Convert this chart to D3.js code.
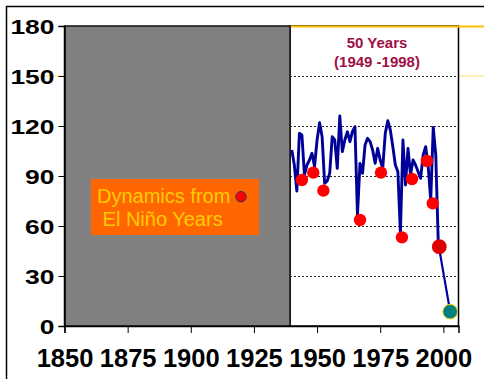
<!DOCTYPE html>
<html>
<head>
<meta charset="utf-8">
<script src="https://cdn.jsdelivr.net/npm/d3@7"></script>
<style>
  html, body { margin: 0; padding: 0; background: #fff; }
  svg { display: block; }
  text { font-family: "Liberation Sans", Arial, sans-serif; }
</style>
</head>
<body>
<svg id="chart" width="484" height="379"></svg>
<script>
// Annual index, 1940-1998
const years = d3.range(1940, 1999);
const values = [
  105.6, 96.6, 81, 115.6, 114.6, 90.6, 96.6, 99.6, 103.6, 95.6,
  111.6, 122, 113.6, 85.6, 87, 91.6, 113.6, 111.6, 94.6, 126,
  104.6, 111.6, 116.6, 110.6, 116.6, 119.6, 66.6, 97.6, 91.6, 108.6,
  112.6, 110.6, 105.6, 97.6, 106.6, 99.6, 94.6, 115.6, 123.2, 117.6,
  107.6, 96.6, 92.6, 55.6, 111.6, 84.6, 106.6, 90.6, 99.6, 96.6,
  92.6, 88.6, 102.6, 107.6, 95.6, 75.6, 119.2, 102.6, 49.6
];

// El Niño years marked on the series
const ninoYears = [1944, 1948.5, 1952.5, 1967, 1975.3, 1983.6, 1987.6, 1993.5, 1995.8];
const ninoValues = [87.6, 92, 81.2, 63.6, 92, 53.2, 88.2, 99, 73.6];

// Strong 1998 event and the latest observation
const bigYear = [1998.4], bigValue = [47.6];
const lastYear = [2002.7], lastValue = [8.6];

// Shaded span without observations
const shadeStart = 1850, shadeEnd = 1939.3;

const yTicks = [0, 30, 60, 90, 120, 150, 180];
const xTicks = [1850, 1875, 1900, 1925, 1950, 1975, 2000];
const gridValues = [30, 60, 90, 120, 150];

const titleLines = ["50 Years", "(1949 -1998)"];
const noteLines = ["Dynamics from", " El Niño Years"];

const svg = d3.select("#chart");

const x = d3.scaleLinear().domain([1850, 2006]).range([64.5, 458.5]);
const y = d3.scaleLinear().domain([0, 180]).range([326, 26]);

// outer frame (top and left edges)
svg.append("path")
  .attr("d", "M6.5,379 V6.5 H484")
  .attr("fill", "none").attr("stroke", "#000").attr("stroke-width", 1.5);

// faint guide at 150 running across the page
svg.append("line")
  .attr("x1", 37).attr("x2", 484)
  .attr("y1", y(150)).attr("y2", y(150))
  .attr("stroke", "#FFE9A0").attr("stroke-width", 1.5);

// white panel for the observed period
svg.append("rect")
  .attr("x", x(shadeEnd)).attr("y", y(180))
  .attr("width", x(2006) - x(shadeEnd)).attr("height", y(0) - y(180))
  .attr("fill", "#fff").attr("stroke", "#000").attr("stroke-width", 1.5);

// gold rule along the top
svg.append("line")
  .attr("x1", 285).attr("x2", 484)
  .attr("y1", y(180) + 0.5).attr("y2", y(180) + 0.5)
  .attr("stroke", "#FFC000").attr("stroke-width", 2);

// dotted gridlines
svg.append("g").selectAll("line").data(gridValues).join("line")
  .attr("x1", x(shadeEnd)).attr("x2", x(2006))
  .attr("y1", d => Math.round(y(d)) + 0.5).attr("y2", d => Math.round(y(d)) + 0.5)
  .attr("stroke", "#222").attr("stroke-width", 1)
  .attr("stroke-dasharray", "2,2");

// grey shaded span
svg.append("rect")
  .attr("x", x(shadeStart)).attr("y", y(180))
  .attr("width", x(shadeEnd) - x(shadeStart)).attr("height", y(0) - y(180))
  .attr("fill", "#808080").attr("stroke", "#111").attr("stroke-width", 1.5);

// axes
const yAxis = d3.axisLeft(y).tickValues(yTicks).tickSize(6).tickFormat(d3.format("d"));
const gy = svg.append("g").attr("transform", `translate(${x(1850)},0)`).call(yAxis);
gy.select(".domain").attr("stroke-width", 1.5);
gy.selectAll(".tick line").attr("stroke-width", 1);
gy.selectAll(".tick text")
  .attr("x", -10)
  .attr("dy", "0.36em")
  .style("font-family", '"Liberation Sans", Arial, sans-serif')
  .style("font-size", "21px").style("font-weight", "bold").attr("fill", "#000")
  .each(function () {
    const n = this.textContent.length;
    d3.select(this).attr("textLength", n * 14.7).attr("lengthAdjust", "spacingAndGlyphs");
  });

const xAxis = d3.axisBottom(x).tickValues(xTicks).tickSize(7).tickFormat(d3.format("d"));
const gx = svg.append("g").attr("transform", `translate(0,${y(0)})`).call(xAxis);
gx.select(".domain").attr("stroke-width", 1.5);
gx.selectAll(".tick line").attr("stroke-width", 1);
gx.selectAll(".tick text")
  .attr("y", 0).attr("dy", 41)
  .style("font-family", '"Liberation Sans", Arial, sans-serif')
  .style("font-size", "25.5px").style("font-weight", "bold").attr("fill", "#000");

// series line
const line = d3.line().x(d => x(d[0])).y(d => y(d[1]));
const series = years.map((yr, i) => [yr, values[i]]);
svg.append("path")
  .datum([series[series.length - 1], [lastYear[0], lastValue[0]]])
  .attr("d", line)
  .attr("fill", "none").attr("stroke", "#0000A8").attr("stroke-width", 2.2);
svg.append("path")
  .datum(series)
  .attr("d", line)
  .attr("fill", "none").attr("stroke", "#000099")
  .attr("stroke-width", 2.9).attr("stroke-linejoin", "round");

// El Niño markers
svg.append("g").selectAll("circle").data(ninoYears).join("circle")
  .attr("cx", d => x(d)).attr("cy", (d, i) => y(ninoValues[i]))
  .attr("r", 6.2).attr("fill", "#FF0000");

svg.append("circle")
  .attr("cx", x(bigYear[0])).attr("cy", y(bigValue[0]))
  .attr("r", 7.4).attr("fill", "#DD0000");

svg.append("circle")
  .attr("cx", x(lastYear[0])).attr("cy", y(lastValue[0]))
  .attr("r", 7.3).attr("fill", "#008080")
  .attr("stroke", "#FFCC00").attr("stroke-width", 1);

// period title
svg.append("g").selectAll("text").data(titleLines).join("text")
  .attr("x", 377).attr("y", (d, i) => 48 + i * 19)
  .attr("text-anchor", "middle")
  .style("font-size", "15px").style("font-weight", "bold")
  .attr("fill", "#9E0F45")
  .text(d => d);

// note box
const note = svg.append("g").attr("transform", "translate(91,179)");
note.append("rect").attr("width", 168).attr("height", 56).attr("fill", "#FF6600");
note.selectAll("text").data(noteLines).join("text")
  .attr("x", 6).attr("y", (d, i) => 23.5 + i * 23.5)
  .attr("xml:space", "preserve")
  .style("white-space", "pre")
  .style("font-size", "20px").attr("fill", "#FFCC00")
  .text(d => d);
note.append("circle")
  .attr("cx", 150).attr("cy", 17.7).attr("r", 5.2)
  .attr("fill", "#FF0000").attr("stroke", "#333366").attr("stroke-width", 1);
</script>
</body>
</html>
